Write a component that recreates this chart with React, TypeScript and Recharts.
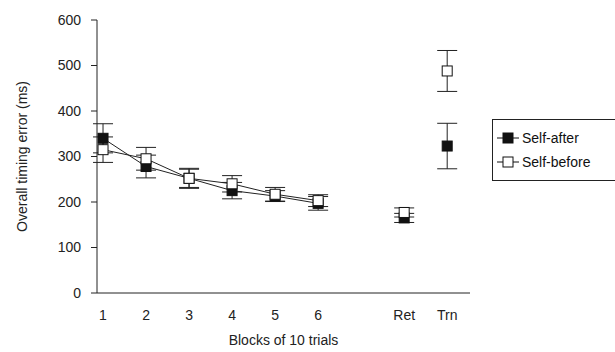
import { ComposedChart, Line, Scatter, XAxis, YAxis, ErrorBar } from "recharts";

const blockPos = [1, 2, 3, 4, 5, 6];
const afterMean = [340, 278, 252, 225, 213, 197];
const afterErr = [32, 25, 20, 18, 12, 15];
const beforeMean = [315, 295, 252, 240, 217, 203];
const beforeErr = [28, 25, 22, 18, 15, 13];

const extraPos = [8, 9];
const afterExtra = [165, 323];
const afterExtraErr = [10, 50];
const beforeExtra = [177, 488];
const beforeExtraErr = [10, 45];

const tickPos = [1, 2, 3, 4, 5, 6, 8, 9];
const tickLabels: Record<number, string> = { 1: "1", 2: "2", 3: "3", 4: "4", 5: "5", 6: "6", 8: "Ret", 9: "Trn" };

const afterLine = blockPos.map((x, i) => ({ x, y: afterMean[i], err: afterErr[i] }));
const beforeLine = blockPos.map((x, i) => ({ x, y: beforeMean[i], err: beforeErr[i] }));
const afterPts = extraPos.map((x, i) => ({ x, y: afterExtra[i], err: afterExtraErr[i] }));
const beforePts = extraPos.map((x, i) => ({ x, y: beforeExtra[i], err: beforeExtraErr[i] }));

const FONT = "Liberation Sans, Arial, sans-serif";

function Square({ cx, cy, filled }: { cx?: number; cy?: number; filled: boolean }) {
  if (cx == null || cy == null) return null;
  return (
    <rect
      x={cx - 5}
      y={cy - 5}
      width={10}
      height={10}
      fill={filled ? "#111" : "#fff"}
      stroke="#111"
      strokeWidth={1}
    />
  );
}

function LegendBox() {
  const item = (filled: boolean, label: string) => (
    <div style={{ display: "flex", alignItems: "center", height: 24 }}>
      <svg width={22} height={12}>
        <line x1={0} y1={6} x2={22} y2={6} stroke="#111" strokeWidth={1} />
        <rect x={6} y={1} width={10} height={10} fill={filled ? "#111" : "#fff"} stroke="#111" />
      </svg>
      <span style={{ marginLeft: 3, fontSize: 14, fontFamily: FONT, color: "#111", whiteSpace: "nowrap" }}>{label}</span>
    </div>
  );
  return (
    <div style={{ position: "absolute", left: 492, top: 119, border: "1px solid #222", padding: "6px 20px 6px 4px", background: "#fff", width: 120 }}>
      {item(true, "Self-after")}
      {item(false, "Self-before")}
    </div>
  );
}

const yTitle = (props: any) => {
  const vb = props.viewBox;
  const cy = vb.y + vb.height / 2;
  return (
    <text x={22} y={cy} transform={`rotate(-90, 22, ${cy})`} textAnchor="middle" dominantBaseline="central" fill="#222" fontSize={14} fontFamily={FONT}>
      Overall timing error (ms)
    </text>
  );
};

const xTitle = (props: any) => {
  const vb = props.viewBox;
  return (
    <text x={vb.x + vb.width / 2 + 0} y={340} textAnchor="middle" dominantBaseline="central" fill="#222" fontSize={14} fontFamily={FONT}>
      Blocks of 10 trials
    </text>
  );
};

export default function App() {
  return (
    <div style={{ position: "absolute", left: 0, top: 0, width: 615, height: 352, background: "#fff", overflow: "hidden" }}>
      <ComposedChart width={615} height={352} margin={{ top: 20, right: 145, bottom: 0, left: 0 }}>
        <XAxis
          type="number"
          dataKey="x"
          domain={[0.86, 9.53]}
          ticks={tickPos}
          tickFormatter={(v: number) => tickLabels[v] ?? ""}
          tickLine={false}
          axisLine={{ stroke: "#222" }}
          tick={{ fill: "#222", fontSize: 14, fontFamily: FONT }}
          tickMargin={11}
          height={59}
          allowDataOverflow
          label={{ content: xTitle }}
        />
        <YAxis
          type="number"
          domain={[0, 600]}
          ticks={[0, 100, 200, 300, 400, 500, 600]}
          width={97}
          axisLine={{ stroke: "#222" }}
          tickLine={{ stroke: "#222" }}
          tick={{ fill: "#222", fontSize: 14, fontFamily: FONT }}
          tickMargin={10}
          label={{ content: yTitle }}
        />
        <Line
          data={afterLine}
          dataKey="y"
          name="Self-after"
          stroke="#222"
          strokeWidth={1}
          isAnimationActive={false}
          dot={(p: any) => <Square key={`a${p.index}`} cx={p.cx} cy={p.cy} filled />}
          activeDot={false}
        >
          <ErrorBar dataKey="err" width={10} stroke="#222" strokeWidth={1} direction="y" />
        </Line>
        <Line
          data={beforeLine}
          dataKey="y"
          name="Self-before"
          stroke="#222"
          strokeWidth={1}
          isAnimationActive={false}
          dot={(p: any) => <Square key={`b${p.index}`} cx={p.cx} cy={p.cy} filled={false} />}
          activeDot={false}
        >
          <ErrorBar dataKey="err" width={10} stroke="#222" strokeWidth={1} direction="y" />
        </Line>
        <Scatter
          data={afterPts}
          dataKey="y"
          isAnimationActive={false}
          shape={(p: any) => <Square cx={p.cx} cy={p.cy} filled />}
        >
          <ErrorBar dataKey="err" width={10} stroke="#222" strokeWidth={1} direction="y" />
        </Scatter>
        <Scatter
          data={beforePts}
          dataKey="y"
          isAnimationActive={false}
          shape={(p: any) => <Square cx={p.cx} cy={p.cy} filled={false} />}
        >
          <ErrorBar dataKey="err" width={10} stroke="#222" strokeWidth={1} direction="y" />
        </Scatter>
      </ComposedChart>
      <LegendBox />
    </div>
  );
}
